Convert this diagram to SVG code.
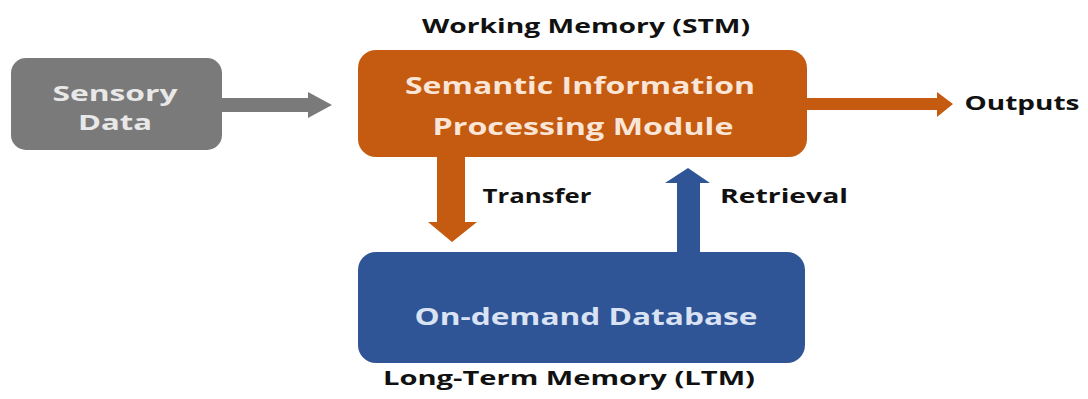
<svg xmlns="http://www.w3.org/2000/svg" width="1088" height="399" viewBox="0 0 1088 399">
<style>
text{font-family:"Open Sans","DejaVu Sans",sans-serif;font-weight:bold;text-anchor:middle}
.lbl{fill:#111;font-size:20px}
.in{font-size:23px}
.sm{font-size:21px}
</style>
<rect width="1088" height="399" fill="#fff"/>
<g id="connectors">
<path d="M222 98 H308 V92 L332 105 L308 118 V112 H222 Z" fill="#7a7a7a"/>
<path d="M807 98 H937 V92 L953 104 L937 117 V110 H807 Z" fill="#c55a11"/>
<path d="M437 157 H465 V222 H477 L452 242 L428 222 H437 Z" fill="#c55a11"/>
<path d="M677 252 V183 H665 L688 168 L710 183 H700 V252 Z" fill="#2f5597"/>
</g>
<g id="sensory">
<rect x="11" y="58" width="211" height="92" rx="15" fill="#7a7a7a"/>
<text class="sm" x="115" y="101" fill="#e8e8e8" textLength="125" lengthAdjust="spacingAndGlyphs">Sensory</text>
<text class="sm" x="115" y="130" fill="#e8e8e8" textLength="74" lengthAdjust="spacingAndGlyphs">Data</text>
</g>
<g id="stm">
<text class="lbl" x="586" y="33" textLength="328" lengthAdjust="spacingAndGlyphs">Working Memory (STM)</text>
<rect x="358" y="50" width="449" height="107" rx="18" fill="#c55a11"/>
<text class="in" x="580" y="94" fill="#fbe5d6" textLength="350" lengthAdjust="spacingAndGlyphs">Semantic Information</text>
<text class="in" x="583" y="135" fill="#fbe5d6" textLength="301" lengthAdjust="spacingAndGlyphs">Processing Module</text>
</g>
<g id="outputs">
<text class="lbl" x="1022" y="110" textLength="115" lengthAdjust="spacingAndGlyphs">Outputs</text>
</g>
<g id="transfer-label">
<text class="lbl" x="537" y="203" textLength="109" lengthAdjust="spacingAndGlyphs">Transfer</text>
</g>
<g id="retrieval-label">
<text class="lbl" x="784" y="203" textLength="128" lengthAdjust="spacingAndGlyphs">Retrieval</text>
</g>
<g id="ltm">
<rect x="358" y="252" width="447" height="111" rx="18" fill="#2f5597"/>
<text class="in" x="586" y="325" fill="#dae3f3" textLength="343" lengthAdjust="spacingAndGlyphs">On-demand Database</text>
<text class="lbl" x="569" y="385" textLength="372" lengthAdjust="spacingAndGlyphs">Long-Term Memory (LTM)</text>
</g>
</svg>
